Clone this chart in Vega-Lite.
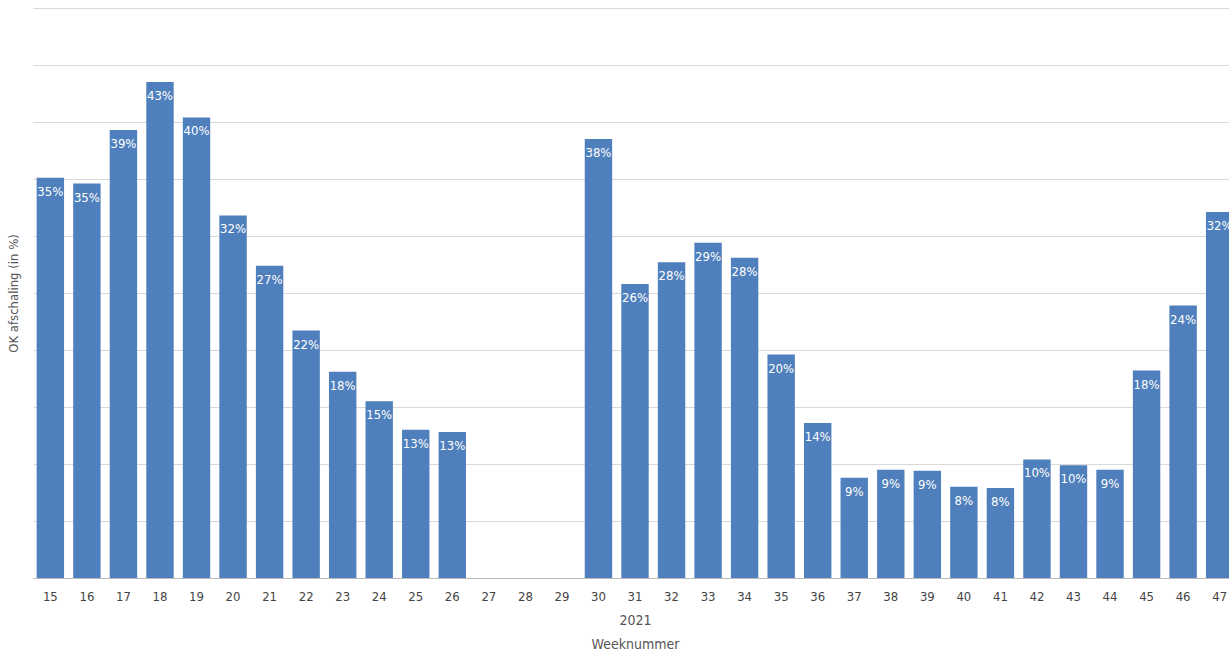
{
  "$schema": "https://vega.github.io/schema/vega-lite/v6.json",
  "autosize": "none",
  "width": 1204,
  "height": 570,
  "padding": {"left": 33, "top": 8, "right": 0, "bottom": 77},
  "background": "white",
  "config": {
    "view": {"stroke": null},
    "font": "Liberation Sans Narrow, DejaVu Sans Condensed, sans-serif"
  },
  "data": {"values": [
    {"week": "15", "pct": 35.1, "label": "35%"},
    {"week": "16", "pct": 34.6, "label": "35%"},
    {"week": "17", "pct": 39.3, "label": "39%"},
    {"week": "18", "pct": 43.5, "label": "43%"},
    {"week": "19", "pct": 40.4, "label": "40%"},
    {"week": "20", "pct": 31.8, "label": "32%"},
    {"week": "21", "pct": 27.4, "label": "27%"},
    {"week": "22", "pct": 21.7, "label": "22%"},
    {"week": "23", "pct": 18.1, "label": "18%"},
    {"week": "24", "pct": 15.5, "label": "15%"},
    {"week": "25", "pct": 13.0, "label": "13%"},
    {"week": "26", "pct": 12.8, "label": "13%"},
    {"week": "30", "pct": 38.5, "label": "38%"},
    {"week": "31", "pct": 25.8, "label": "26%"},
    {"week": "32", "pct": 27.7, "label": "28%"},
    {"week": "33", "pct": 29.4, "label": "29%"},
    {"week": "34", "pct": 28.1, "label": "28%"},
    {"week": "35", "pct": 19.6, "label": "20%"},
    {"week": "36", "pct": 13.6, "label": "14%"},
    {"week": "37", "pct": 8.8, "label": "9%"},
    {"week": "38", "pct": 9.5, "label": "9%"},
    {"week": "39", "pct": 9.4, "label": "9%"},
    {"week": "40", "pct": 8.0, "label": "8%"},
    {"week": "41", "pct": 7.9, "label": "8%"},
    {"week": "42", "pct": 10.4, "label": "10%"},
    {"week": "43", "pct": 9.9, "label": "10%"},
    {"week": "44", "pct": 9.5, "label": "9%"},
    {"week": "45", "pct": 18.2, "label": "18%"},
    {"week": "46", "pct": 23.9, "label": "24%"},
    {"week": "47", "pct": 32.1, "label": "32%"}
  ]},
  "encoding": {
    "x": {
      "field": "week", "type": "ordinal",
      "scale": {
        "domain": ["15","16","17","18","19","20","21","22","23","24","25","26","27","28","29","30","31","32","33","34","35","36","37","38","39","40","41","42","43","44","45","46","47"],
        "paddingInner": 0.25, "paddingOuter": 0.1
      },
      "axis": {
        "labelAngle": 0, "ticks": false, "labelFontSize": 13, "labelColor": "#444",
        "labelPadding": 12, "domainColor": "#bbb",
        "title": ["2021", "Weeknummer"], "titleFontWeight": "normal",
        "titleFontSize": 14, "titleColor": "#555", "titlePadding": 10, "titleLineHeight": 24
      }
    },
    "y": {
      "field": "pct", "type": "quantitative",
      "scale": {"domain": [0, 50]},
      "axis": {
        "values": [0, 5, 10, 15, 20, 25, 30, 35, 40, 45, 50],
        "labels": false, "ticks": false, "domain": false,
        "gridColor": "#d9d9d9",
        "title": "OK afschaling (in %)", "titleFontWeight": "normal",
        "titleFontSize": 13, "titleColor": "#555", "titleX": -13, "titleY": 285,
        "titleAlign": "center", "titleBaseline": "bottom"
      }
    }
  },
  "layer": [
    {"mark": {"type": "bar", "color": "#4f7fbc"}},
    {
      "mark": {"type": "text", "color": "white", "baseline": "top", "dy": 8, "fontSize": 13},
      "encoding": {"text": {"field": "label"}}
    }
  ]
}
